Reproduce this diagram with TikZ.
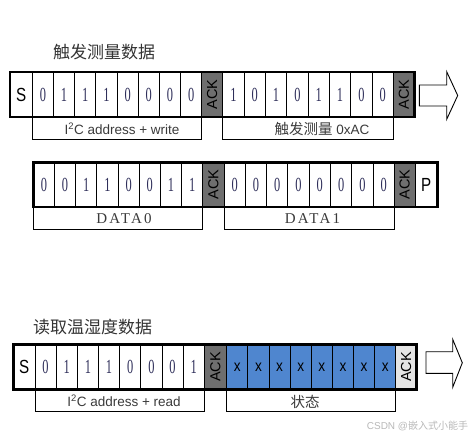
\documentclass[tikz,border=0pt]{standalone}
\usepackage{fontspec}
\usepackage{graphicx}
\setmainfont{Liberation Sans}
\newfontfamily\serifdig{Liberation Serif}
\newfontfamily\cjkf{Noto Sans CJK SC}
\newfontfamily\dataf[LetterSpace=15]{Liberation Serif}
\definecolor{digcol}{HTML}{2F2F5A}
\definecolor{ackdark}{HTML}{6E6E6E}
\definecolor{acklight}{HTML}{E4E4E4}
\definecolor{bluecell}{HTML}{4F86CF}
\definecolor{titlecol}{HTML}{333333}
\definecolor{labcol}{HTML}{3A3A3A}
\definecolor{wmcol}{HTML}{B8B8B8}
\newcommand\bitdig[1]{\scalebox{0.62}[1]{\fontsize{20}{20}\selectfont\serifdig\color{digcol}#1}}
\newcommand\bigletter[1]{\scalebox{0.8}[1]{\fontsize{19}{19}\selectfont #1}}
\newcommand\xletter{\scalebox{0.85}[1]{\fontsize{16}{16}\selectfont x}}
\newcommand\acktext{\rotatebox{90}{\fontsize{14.5}{14.5}\selectfont ACK}}
\tikzset{
  cell/.style={draw=black, line width=0.8pt, inner sep=0pt, minimum height=45pt},
  ackbox/.style={cell, fill=ackdark},
  ackboxlight/.style={cell, fill=acklight},
  xbox/.style={cell, fill=bluecell},
  frame/.style={draw=black, line width=2.6pt},
  lblbox/.style={draw=black, line width=0.9pt, inner sep=0pt, minimum height=22.4pt},
  lbltext/.style={inner sep=0pt, text=labcol, font=\fontsize{13.5}{14}\selectfont},
  title/.style={inner sep=0pt, text=titlecol, font=\fontsize{17}{17}\selectfont\cjkf},
  blockarrow/.style={draw=black, line width=0.9pt, fill=white},
}
\begin{document}
\begin{tikzpicture}[x=1pt, y=-1pt]
\useasboundingbox (0,0) rectangle (470,437);

% ---------- Row 1 ----------
\node[title] (t1) at (104,52) {触发测量数据};
\node[lblbox, minimum width=169.4pt] (l1a) at (117,128) {};
\node[lblbox, minimum width=170.6pt] (l1b) at (308,128) {};
\node[lbltext] (l1at) at (122,129) {I\textsuperscript{2}C address + write};
\node[lbltext] (l1bt) at (322,129) {{\cjkf\fontsize{14.5}{15}\selectfont 触发测量} 0xAC};
\node[cell, minimum width=22.3pt] (s1) at (21.15,94.5) {\bigletter{S}};
\foreach \v [count=\i from 0] in {0,1,1,1,0,0,0,0} {
  \pgfmathsetmacro\cx{32.3+21.18*\i+10.59}
  \node[cell, minimum width=21.18pt] (a\i) at (\cx,94.5) {\bitdig{\v}};
}
\node[ackbox, minimum width=21pt] (ack1a) at (212.2,94.5) {\acktext};
\foreach \v [count=\i from 0] in {1,0,1,0,1,1,0,0} {
  \pgfmathsetmacro\cx{222.7+21.33*\i+10.665}
  \node[cell, minimum width=21.33pt] (b\i) at (\cx,94.5) {\bitdig{\v}};
}
\node[ackbox, minimum width=21.2pt] (ack1b) at (403.9,94.5) {\acktext};
\draw[frame] (10,72) rectangle (414.5,117);
\draw[blockarrow] (419.3,85) -- (446.7,85) -- (446.7,71.7) -- (457.7,95.5)
  -- (446.7,119.3) -- (446.7,106) -- (419.3,106) -- cycle;

% ---------- Row 2 ----------
\node[lblbox, minimum width=169.4pt] (l2a) at (118,218.6) {};
\node[lblbox, minimum width=170.3pt] (l2b) at (309.15,218.6) {};
\node[lbltext, text=labcol] (l2at) at (124,218.6) {\fontsize{15}{15}\selectfont\dataf DATA0};
\node[lbltext, text=labcol] (l2bt) at (312.5,218.6) {\fontsize{15}{15}\selectfont\dataf DATA1};
\foreach \v [count=\i from 0] in {0,0,1,1,0,0,1,1} {
  \pgfmathsetmacro\cx{33.3+21.18*\i+10.59}
  \node[cell, minimum width=21.18pt] (c\i) at (\cx,184.65) {\bitdig{\v}};
}
\node[ackbox, minimum width=21.3pt] (ack2a) at (213.35,184.65) {\acktext};
\foreach \v [count=\i from 0] in {0,0,0,0,0,0,0,0} {
  \pgfmathsetmacro\cx{224+21.29*\i+10.645}
  \node[cell, minimum width=21.29pt] (d\i) at (\cx,184.65) {\bitdig{\v}};
}
\node[ackbox, minimum width=20.7pt] (ack2b) at (404.65,184.65) {\acktext};
\node[cell, minimum width=22.3pt] (p2) at (426.15,184.65) {\bigletter{P}};
\draw[frame] (33.3,162.3) rectangle (437.3,207);

% ---------- Row 3 ----------
\node[title] (t3) at (92.5,326.7) {读取温湿度数据};
\node[lblbox, minimum width=169.3pt] (l3a) at (119.65,400.5) {};
\node[lblbox, minimum width=169pt] (l3b) at (311.2,400.5) {};
\node[lbltext] (l3at) at (124,401) {I\textsuperscript{2}C address + read};
\node[lbltext] (l3bt) at (305,402) {{\cjkf\fontsize{14.5}{15}\selectfont 状态}};
\node[cell, minimum width=21.7pt] (s3) at (24.15,366.8) {\bigletter{S}};
\foreach \v [count=\i from 0] in {0,1,1,1,0,0,0,1} {
  \pgfmathsetmacro\cx{35+21.16*\i+10.58}
  \node[cell, minimum width=21.16pt] (e\i) at (\cx,366.8) {\bitdig{\v}};
}
\node[ackbox, minimum width=22.4pt] (ack3a) at (215.5,366.8) {\acktext};
\foreach \i in {0,...,7} {
  \pgfmathsetmacro\cx{226.7+21.13*\i+10.565}
  \node[xbox, minimum width=21.13pt] (f\i) at (\cx,366.8) {\xletter};
}
\node[ackboxlight, minimum width=21pt] (ack3b) at (406.2,366.8) {\acktext};
\draw[frame] (13.3,344.3) rectangle (416.7,389.3);
\draw[blockarrow] (426,351.7) -- (452.7,351.7) -- (452.7,339.3) -- (462.3,362.8)
  -- (452.7,387.3) -- (452.7,373.3) -- (426,373.3) -- cycle;

% watermark
\node[inner sep=0pt, text=wmcol, font=\fontsize{10}{10}\selectfont] (wm) at (417.5,426)
  {CSDN @{\cjkf 嵌入式小能手}};
\end{tikzpicture}
\end{document}
